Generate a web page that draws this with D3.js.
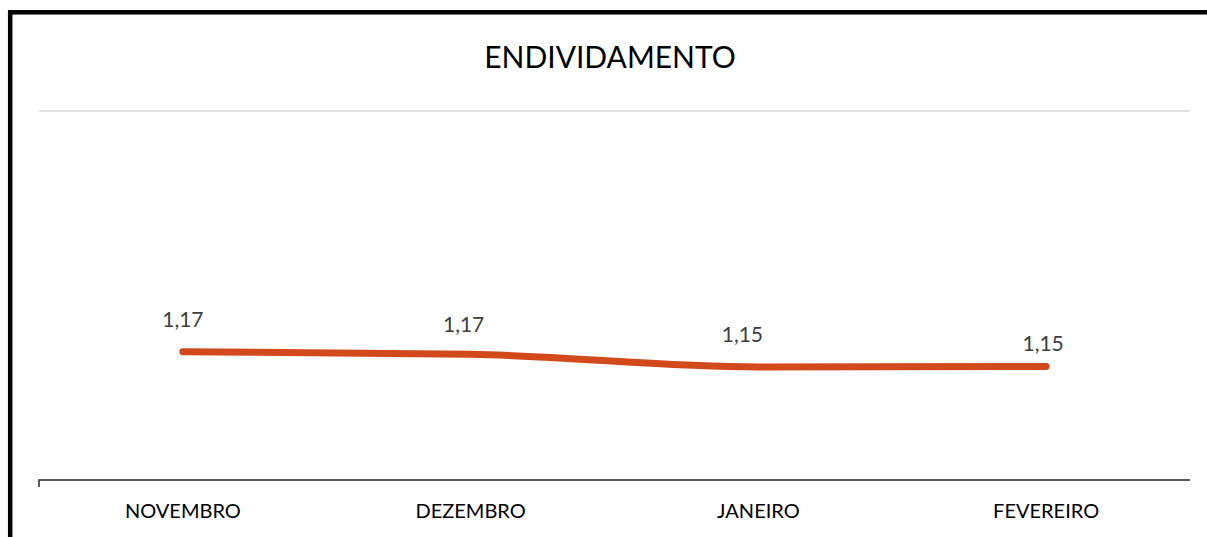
<!DOCTYPE html>
<html>
<head>
<meta charset="utf-8">
<script src="https://cdn.jsdelivr.net/npm/d3@7"></script>
<style>
  html, body { margin: 0; padding: 0; background: #fff; }
  svg { display: block; font-family: Lato, 'Open Sans', sans-serif; }
</style>
</head>
<body>
<svg id="chart" width="1207" height="537"></svg>
<script>
const months = ['NOVEMBRO', 'DEZEMBRO', 'JANEIRO', 'FEVEREIRO']
const endividamento = [1.172, 1.169, 1.154, 1.1545]
// value range of the hidden vertical axis (top = the single gridline)
const yRange = [1.0193, 1.4595]
// small label nudges the source tool applied to avoid overlap
const labelNudge = [[0, 0], [-7, 3], [-16, 0], [-3, 9]]

const svg = d3.select('#chart')
const margins = { top: 110.5, right: 17, bottom: 57, left: 39 }
const width = 1207 - margins.left - margins.right
const height = 537 - margins.top - margins.bottom

// frame: only top and left edges show inside the picture
svg.append('rect')
  .attr('x', 10.2).attr('y', 12.3)
  .attr('width', 1300).attr('height', 700)
  .attr('fill', 'none')
  .attr('stroke', '#000')
  .attr('stroke-width', 4.5)

svg.append('text')
  .attr('x', 610)
  .attr('y', 68)
  .attr('text-anchor', 'middle')
  .attr('font-size', 30)
  .attr('fill', '#000')
  .text('ENDIVIDAMENTO')

const g = svg.append('g')
  .attr('transform', `translate(${margins.left}, ${margins.top})`)

const x = d3.scaleBand().domain(months).range([0, width])
const y = d3.scaleLinear().domain(yRange).range([height, 0])

// gridline at the top value
g.append('g')
  .attr('class', 'grid')
  .call(d3.axisLeft(y).tickValues([yRange[1]]).tickSize(-width).tickFormat(''))
  .call((a) => a.select('.domain').remove())
  .selectAll('line')
  .attr('stroke', '#d9d9d9')
  .attr('stroke-width', 1.5)

const xAxis = g.append('g')
  .attr('class', 'axis axis--x')
  .attr('transform', `translate(0, ${height})`)
  .call(d3.axisBottom(x).tickSize(0).tickPadding(24))
xAxis.select('.domain')
  .attr('stroke', '#262626')
  .attr('stroke-width', 1.5)
  .attr('d', `M0,7V0H${width}`)
xAxis.selectAll('text')
  .attr('font-size', 20)
  .attr('font-family', 'Lato, sans-serif')
  .attr('fill', '#000')

const data = months.map((m, i) => ({ month: m, value: endividamento[i] }))
const cx = (d) => x(d.month) + x.bandwidth() / 2

const line = d3.line()
  .x(cx)
  .y((d) => y(d.value))
  .curve(d3.curveMonotoneX)

g.append('path')
  .datum(data)
  .attr('fill', 'none')
  .attr('stroke', '#d24a1b')
  .attr('stroke-width', 7)
  .attr('stroke-linecap', 'round')
  .attr('stroke-linejoin', 'round')
  .attr('d', line)

const fmt = (v) => d3.format('.2f')(v).replace('.', ',')

g.selectAll('.label')
  .data(data)
  .enter()
  .append('text')
  .attr('class', 'label')
  .attr('x', (d, i) => cx(d) + labelNudge[i][0])
  .attr('y', (d, i) => y(d.value) - 25 + labelNudge[i][1])
  .attr('text-anchor', 'middle')
  .attr('font-size', 21)
  .attr('fill', '#404040')
  .text((d) => fmt(d.value))
</script>
</body>
</html>
